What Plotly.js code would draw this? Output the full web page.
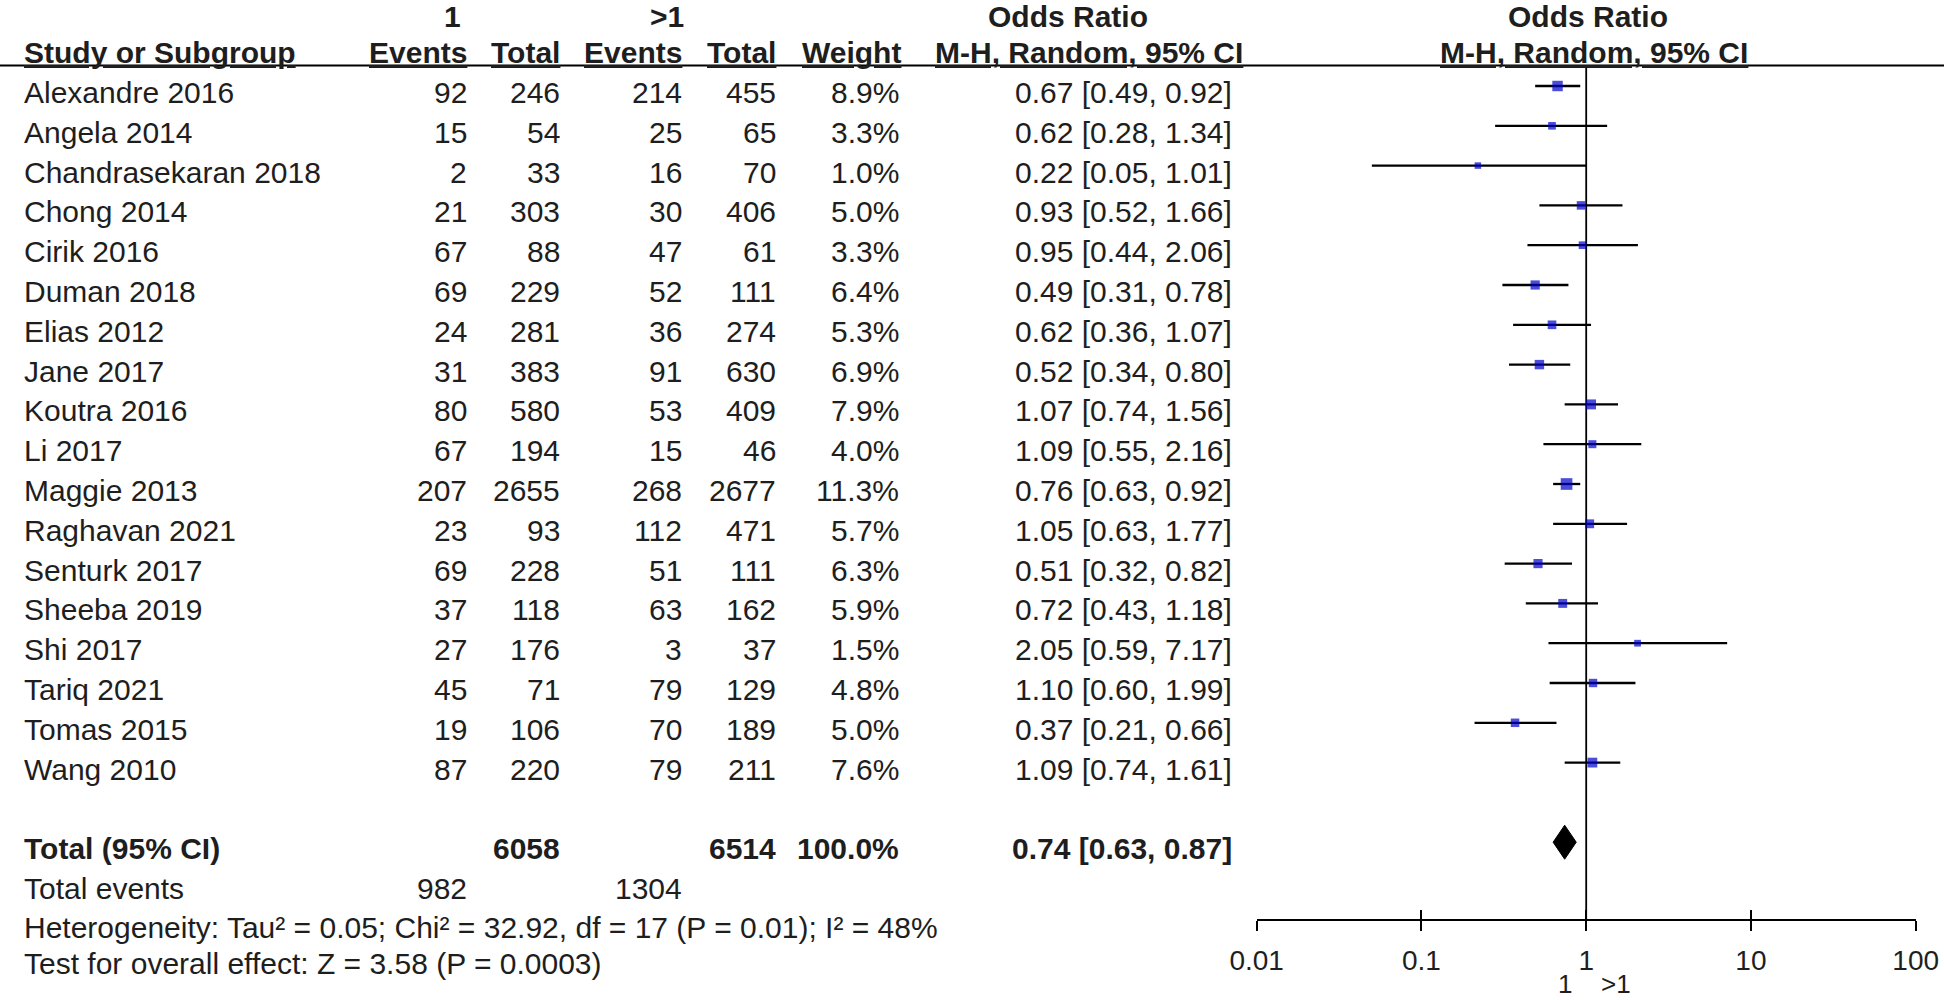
<!DOCTYPE html>
<html>
<head>
<meta charset="utf-8">
<script src="https://cdn.plot.ly/plotly-3.0.1.min.js"></script>
<style>html,body{margin:0;padding:0;background:#fff;}#chart{width:1944px;height:1000px;}</style>
</head>
<body>
<div id="chart"></div>
<script>
// ---- data ----
const studies = ["Alexandre 2016","Angela 2014","Chandrasekaran 2018","Chong 2014","Cirik 2016","Duman 2018","Elias 2012","Jane 2017","Koutra 2016","Li 2017","Maggie 2013","Raghavan 2021","Senturk 2017","Sheeba 2019","Shi 2017","Tariq 2021","Tomas 2015","Wang 2010"];
const events1 = [92,15,2,21,67,69,24,31,80,67,207,23,69,37,27,45,19,87];
const total1  = [246,54,33,303,88,229,281,383,580,194,2655,93,228,118,176,71,106,220];
const events2 = [214,25,16,30,47,52,36,91,53,15,268,112,51,63,3,79,70,79];
const total2  = [455,65,70,406,61,111,274,630,409,46,2677,471,111,162,37,129,189,211];
const weights = [8.9,3.3,1.0,5.0,3.3,6.4,5.3,6.9,7.9,4.0,11.3,5.7,6.3,5.9,1.5,4.8,5.0,7.6];
const oddsRatio = [0.67,0.62,0.22,0.93,0.95,0.49,0.62,0.52,1.07,1.09,0.76,1.05,0.51,0.72,2.05,1.10,0.37,1.09];
const ciLow  = [0.49,0.28,0.05,0.52,0.44,0.31,0.36,0.34,0.74,0.55,0.63,0.63,0.32,0.43,0.59,0.60,0.21,0.74];
const ciHigh = [0.92,1.34,1.01,1.66,2.06,0.78,1.07,0.80,1.56,2.16,0.92,1.77,0.82,1.18,7.17,1.99,0.66,1.61];

const pooledOR = 0.74, pooledLow = 0.63, pooledHigh = 0.87;
const sumTotal1 = 6058, sumTotal2 = 6514, sumWeight = "100.0%";
const sumEvents1 = 982, sumEvents2 = 1304;
const heterogeneityText = "Heterogeneity: Tau² = 0.05; Chi² = 32.92, df = 17 (P = 0.01); I² = 48%";
const overallText = "Test for overall effect: Z = 3.58 (P = 0.0003)";
const tickVals = [0.01, 0.1, 1, 10, 100];
const tickText = ["0.01", "0.1", "1", "10", "100"];
const favourLeft = "1", favourRight = ">1";

// ---- layout helpers ----
const W = 1944, H = 1000;
const FONT = "Liberation Sans, Arial, Helvetica, sans-serif";
const TXT = "#1e1e1e";
const FS = 30;
const rowTop = 86, rowStep = 39.8;           // pixel of row 0 marker, row spacing
const yRange = [(H - rowTop) / rowStep, -rowTop / rowStep];
const px = v => v / W;
const py = v => 1 - v / H;
const textShift = -6.5;
const totalRow = studies.length + 1;

const ann = [];
function addText(text, xPx, yRow, anchor, bold) {
  ann.push({
    text: bold ? "<b>" + text + "</b>" : text,
    x: px(xPx), xref: "paper",
    y: yRow, yref: "y", yshift: textShift,
    xanchor: anchor, yanchor: "middle",
    showarrow: false,
    font: {family: FONT, size: FS, color: TXT}
  });
}
function addPaperText(text, xPx, yPx, anchor, bold, size) {
  ann.push({
    text: bold ? "<b>" + text + "</b>" : text,
    x: px(xPx), xref: "paper", y: py(yPx), yref: "paper",
    xanchor: anchor, yanchor: "middle", showarrow: false,
    font: {family: FONT, size: size || FS, color: TXT}
  });
}
const ul = t => '<span style="text-decoration:underline">' + t + '</span>';

// column positions (pixels)
const colName = 22, colE1 = 469, colN1 = 562, colE2 = 684, colN2 = 778, colW = 901, colOR = 1234;

// header
addPaperText("1", 452, 16, "center", true);
addPaperText(">1", 667, 16, "center", true);
addPaperText("Odds Ratio", 1068, 16, "center", true);
addPaperText("Odds Ratio", 1588, 16, "center", true);
addPaperText(ul("Study or Subgroup"), colName, 52, "left", true);
addPaperText(ul("Events"), colE1, 52, "right", true);
addPaperText(ul("Total"), colN1, 52, "right", true);
addPaperText(ul("Events"), colE2, 52, "right", true);
addPaperText(ul("Total"), colN2, 52, "right", true);
addPaperText(ul("Weight"), colW + 2, 52, "right", true);
addPaperText(ul("M-H, Random, 95% CI"), 1245, 52, "right", true);
addPaperText(ul("M-H, Random, 95% CI"), 1594, 52, "center", true);

// rows
const fmt = v => v.toFixed(2);
studies.forEach((s, i) => {
  addText(s, colName, i, "left", false);
  addText(String(events1[i]), colE1, i, "right", false);
  addText(String(total1[i]), colN1, i, "right", false);
  addText(String(events2[i]), colE2, i, "right", false);
  addText(String(total2[i]), colN2, i, "right", false);
  addText(weights[i].toFixed(1) + "%", colW, i, "right", false);
  addText(fmt(oddsRatio[i]) + " [" + fmt(ciLow[i]) + ", " + fmt(ciHigh[i]) + "]", colOR, i, "right", false);
});

// totals
addText("Total (95% CI)", colName, totalRow, "left", true);
addText(String(sumTotal1), colN1, totalRow, "right", true);
addText(String(sumTotal2), colN2, totalRow, "right", true);
addText(sumWeight, colW, totalRow, "right", true);
addText(fmt(pooledOR) + " [" + fmt(pooledLow) + ", " + fmt(pooledHigh) + "]", colOR, totalRow, "right", true);
addText("Total events", colName, totalRow + 1, "left", false);
addText(String(sumEvents1), colE1, totalRow + 1, "right", false);
addText(String(sumEvents2), colE2, totalRow + 1, "right", false);
addPaperText(heterogeneityText, colName, 927, "left", false);
addPaperText(overallText, colName, 963, "left", false);

// favours labels
addPaperText(favourLeft, 1574, 984, "right", false, 26);
addPaperText(favourRight, 1599, 984, "left", false, 26);

// ---- traces ----
const ciX = [], ciY = [];
studies.forEach((s, i) => { ciX.push(ciLow[i], ciHigh[i], null); ciY.push(i, i, null); });

const diamondH = 17 / rowStep;
const refTop = (66 - rowTop) / rowStep, refBottom = (920 - rowTop) / rowStep;
const traces = [
  {x: [1, 1], y: [refTop, refBottom], mode: "lines", type: "scatter", line: {color: "#000", width: 1.8}, hoverinfo: "skip", xaxis: "x", yaxis: "y"},
  {x: ciX, y: ciY, mode: "lines", type: "scatter", line: {color: "#000", width: 2.3}, hoverinfo: "skip", xaxis: "x", yaxis: "y"},
  {x: oddsRatio, y: studies.map((s, i) => i), mode: "markers", type: "scatter",
   marker: {symbol: "square", color: "#0000cc", size: weights.map(w => 6 + 0.5 * w), line: {width: 0}},
   xaxis: "x", yaxis: "y"},
  {x: [pooledLow, pooledOR, pooledHigh, pooledOR, pooledLow],
   y: [totalRow, totalRow - diamondH, totalRow, totalRow + diamondH, totalRow],
   mode: "lines", type: "scatter", fill: "toself", fillcolor: "#000", line: {color: "#000", width: 1},
   xaxis: "x", yaxis: "y"},
  {x: [1], y: [0], xaxis: "x2", yaxis: "y", mode: "markers", marker: {opacity: 0}, hoverinfo: "skip"}
];

const xDomain = [1256.7 / W, 1915.7 / W];
const axisPos = py(920);
const layout = {
  width: W, height: H,
  margin: {l: 0, r: 0, t: 0, b: 0, pad: 0},
  paper_bgcolor: "#fff", plot_bgcolor: "rgba(0,0,0,0)",
  showlegend: false,
  xaxis: {
    type: "log", range: [-2, 2], domain: xDomain, anchor: "free", position: axisPos,
    showline: true, linecolor: "#000", linewidth: 2,
    ticks: "outside", ticklen: 10, tickwidth: 2, tickcolor: "#000",
    tickvals: tickVals, ticktext: tickText, ticklabelstandoff: 5,
    tickfont: {family: FONT, size: 28, color: TXT},
    showgrid: false, zeroline: false, fixedrange: true
  },
  xaxis2: {
    type: "log", range: [-2, 2], domain: xDomain, anchor: "free", position: axisPos,
    overlaying: "x", showline: false,
    ticks: "inside", ticklen: 10, tickwidth: 2, tickcolor: "#000",
    tickvals: tickVals, showticklabels: false,
    showgrid: false, zeroline: false
  },
  yaxis: {
    range: yRange, domain: [0, 1], showgrid: false, zeroline: false,
    showticklabels: false, showline: false, ticks: ""
  },
  shapes: [
    {type: "line", xref: "paper", yref: "paper", x0: 0, x1: 1, y0: py(65.5), y1: py(65.5), line: {color: "#000", width: 2.2}}
  ],
  annotations: ann
};

Plotly.newPlot("chart", traces, layout, {staticPlot: true, displayModeBar: false});
</script>
</body>
</html>
